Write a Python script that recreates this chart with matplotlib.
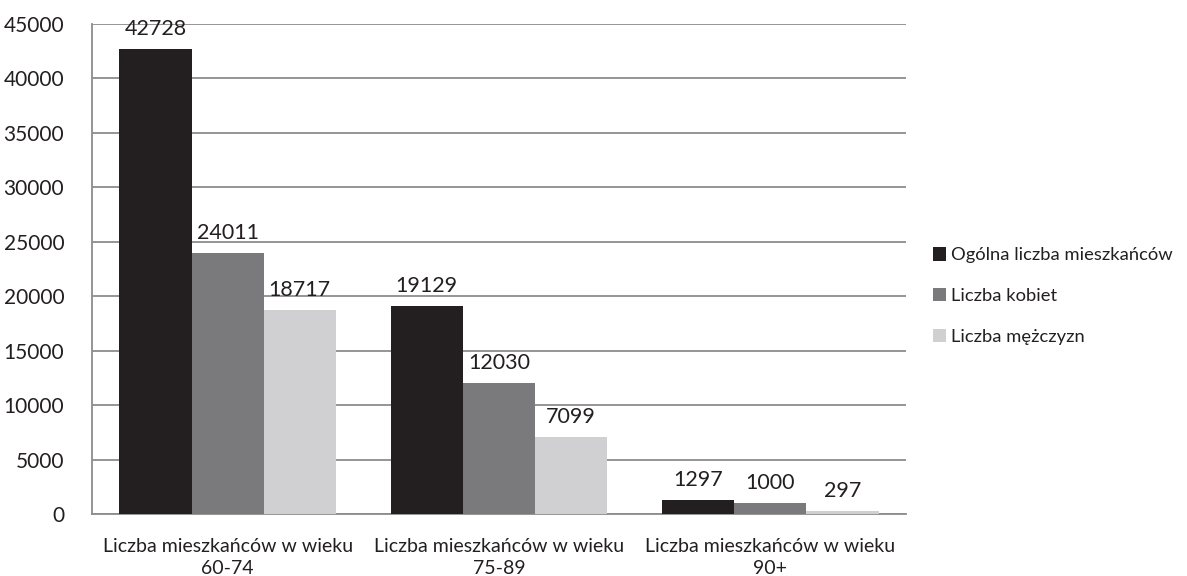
import matplotlib
matplotlib.use("Agg")
import matplotlib.pyplot as plt
import numpy as np

plt.rcParams['font.family'] = ['Lato', 'DejaVu Sans']

categories = ["Liczba mieszkańców w wieku\n60-74",
              "Liczba mieszkańców w wieku\n75-89",
              "Liczba mieszkańców w wieku\n90+"]
series_names = ["Ogólna liczba mieszkańców", "Liczba kobiet", "Liczba mężczyzn"]
ogolna = [42728, 19129, 1297]
kobiety = [24011, 12030, 1000]
mezczyzni = [18717, 7099, 297]
colors = ["#231f20", "#7a7a7c", "#d0d0d2"]

fig = plt.figure(figsize=(11.87, 5.76), dpi=100)
ax = fig.add_axes([92/1187, 1 - 514/576, (906-92)/1187, (514-24)/576])

x = np.arange(len(categories))
w = 0.266
for i, (vals, name, c) in enumerate(zip([ogolna, kobiety, mezczyzni], series_names, colors)):
    pos = x + (i - 1) * w
    ax.bar(pos, vals, w, color=c, label=name, zorder=3)
    for p, v in zip(pos, vals):
        ax.annotate(str(v), (p, v), xytext=(0, 7), textcoords='offset points',
                    ha='center', va='bottom', fontsize=15.5, color='#231f20', zorder=4)

ax.set_xlim(-0.5, 2.5)
ax.set_ylim(0, 45000)
ax.set_yticks(np.arange(0, 45001, 5000))
ax.set_yticklabels([str(v) for v in range(0, 45001, 5000)], fontsize=15, color='#231f20')
ax.set_xticks(x)
ax.set_xticklabels(categories, fontsize=14, color='#231f20', linespacing=1.35)
ax.tick_params(axis='both', length=0)
ax.tick_params(axis='y', pad=20)
ax.tick_params(axis='x', pad=17)
ax.yaxis.grid(True, color='#8c8c8c', linewidth=1.3, zorder=0)
ax.set_axisbelow(True)
for s in ['top', 'right']:
    ax.spines[s].set_visible(False)
for s in ['left', 'bottom']:
    ax.spines[s].set_color('#8c8c8c')
    ax.spines[s].set_linewidth(1.3)

fig.legend(loc='center left', bbox_to_anchor=(916/1187, 1 - 296/576), frameon=False,
           fontsize=13.2, handlelength=0.75, handleheight=0.75, handletextpad=0.25,
           labelspacing=1.35, labelcolor='#231f20')

fig.savefig("out.png", dpi=100)
